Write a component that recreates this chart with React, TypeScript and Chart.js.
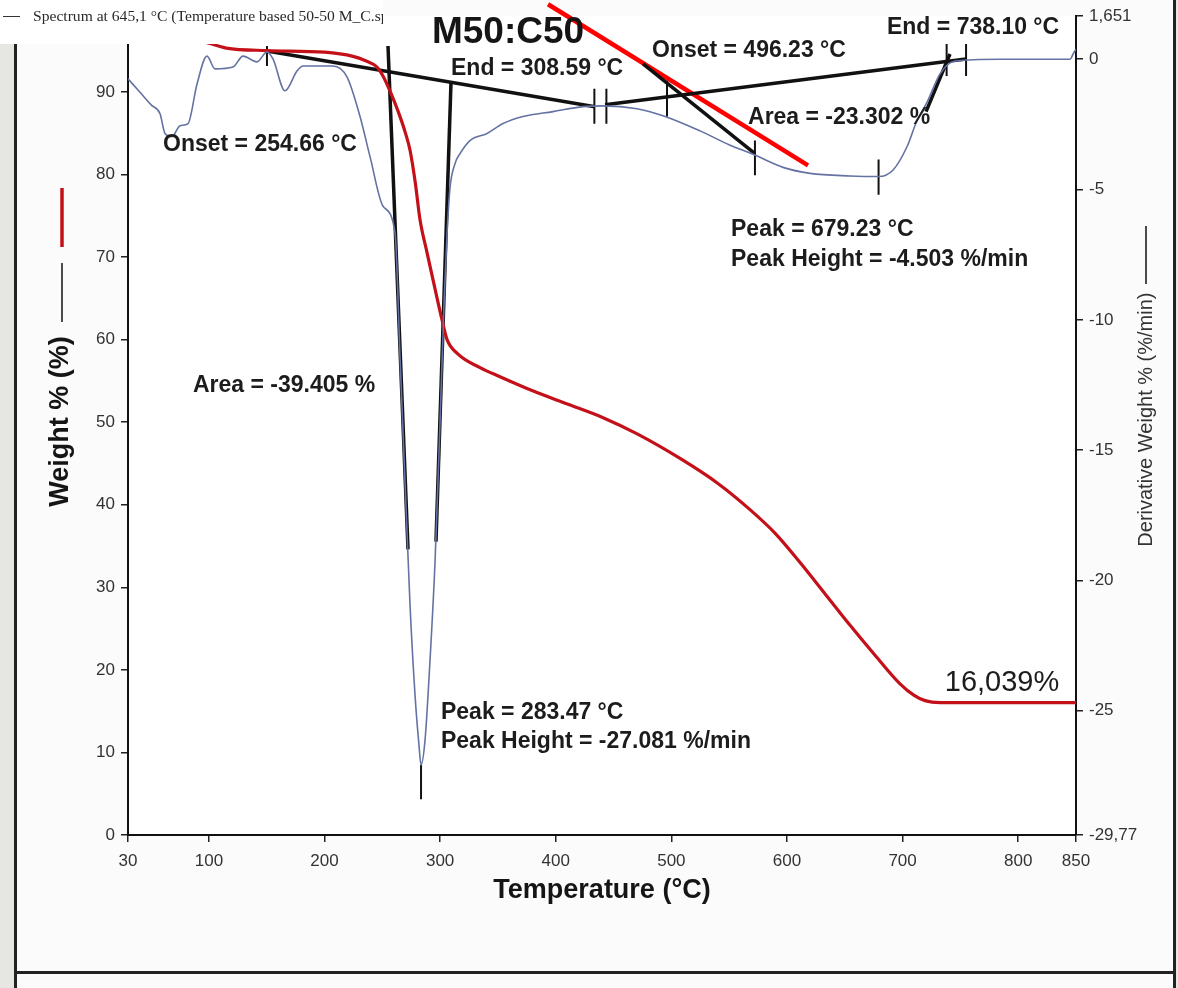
import { useEffect, useRef } from 'react';
import { Chart, registerables } from 'chart.js';

Chart.register(...registerables);

const SANS = 'Arial, "Liberation Sans", Helvetica, sans-serif';
const SERIF = '"Times New Roman", "Liberation Serif", serif';

// Temperature axis (°C)
const tempMin = 30;
const tempMax = 850;
const tempTicks = [30, 100, 200, 300, 400, 500, 600, 700, 800, 850];

// Weight axis (%)
const weightMin = 0;
const weightMax = 99.16;
const weightTicks = [0, 10, 20, 30, 40, 50, 60, 70, 80, 90];

// Derivative weight axis (%/min)
const rateMin = -29.77;
const rateMax = 1.651;
const rateTicks = [-29.77, -25, -20, -15, -10, -5, 0, 1.651];

// TGA weight loss curve
const weightTemps = [30, 50, 75, 100, 115, 150, 200, 224.6, 235, 245.4, 251, 256.6, 261, 265.3, 270, 274, 278.5, 282.6, 288.7, 295, 301.6, 306, 315, 334.5, 351.8, 380, 410, 440, 470, 507.5, 540, 568, 590, 611.3, 633, 654.6, 676, 697.8, 710, 719.4, 732.4, 850];
const weightValues = [99.0, 98.4, 97.2, 95.9, 95.3, 95.0, 94.8, 94.3, 93.8, 93.0, 91.8, 90.1, 88.6, 87.0, 85.0, 82.9, 79.0, 74.5, 70.5, 66.5, 62.4, 60.0, 58.3, 56.6, 55.5, 53.8, 52.2, 50.6, 48.6, 45.6, 42.6, 39.4, 36.5, 33.0, 29.2, 25.4, 21.8, 18.3, 16.9, 16.27, 16.039, 16.039];

// DTG (derivative weight) curve
const rateTemps = [30, 40, 50, 57.7, 62, 68, 75, 81.9, 89.7, 98.3, 105.3, 120.8, 129.5, 141.6, 150.2, 155.4, 165.8, 176.2, 181.4, 207.3, 219.4, 230.7, 239.3, 250.6, 261, 265.3, 269.6, 274, 278.3, 281.7, 283.47, 286.9, 291.2, 295.6, 299.9, 303.4, 306, 308.5, 312.9, 317.2, 325.8, 340.6, 354.4, 371.7, 397.6, 423.6, 440.9, 470.3, 492.8, 524.8, 550.8, 570.7, 596.6, 620, 654.6, 679.23, 691.8, 703.9, 712.5, 721.2, 732.4, 745.4, 784.3, 844.9, 847.5, 850];
const rateValues = [-0.75, -1.25, -1.75, -2.09, -2.85, -2.97, -2.55, -2.47, -0.95, 0.12, -0.37, -0.30, 0.12, -0.10, 0.28, 0.01, -1.21, -0.45, -0.26, -0.26, -0.68, -2.2, -3.73, -5.64, -6.67, -11.44, -16.22, -20.99, -24.42, -26.33, -27.081, -26.14, -23.09, -19.27, -13.93, -9.35, -6.67, -4.95, -4.0, -3.62, -3.12, -2.85, -2.47, -2.2, -2.01, -1.82, -1.79, -1.9, -2.17, -2.75, -3.3, -3.65, -4.15, -4.38, -4.48, -4.503, -4.25, -3.35, -2.35, -1.65, -0.56, -0.07, 0.0, 0.0, 0.2, 0.39];

// Baselines and tangents of the onset / end evaluation (°C, %/min)
const baselineA = [[150.2, 0.315], [433.9, -1.823]];
const baselineB = [[442.6, -1.747], [754.9, 0.009]];
const tangentOnsetA = [[254.9, 0.506], [272.2, -18.81]];
const tangentEndA = [[309.4, -0.869], [296.4, -18.51]];
const tangentOnsetB = [[475.5, -0.18], [572.3, -3.62]];
const tangentEndB = [[741.0, 0.2], [720.3, -2.01]];

// Event markers: temperature, upper and lower end (%/min)
const markerTemps = [150.2, 433.4, 443.8, 496.23, 572.3, 679.23, 738.1, 754.9, 283.47];
const markerTops = [0.506, -1.136, -1.136, -0.83, -3.12, -3.85, 0.58, 0.58, -27.081];
const markerBottoms = [-0.258, -2.472, -2.472, -2.205, -4.457, -5.2, -0.64, -0.64, -28.4];

// Highlight stroke across the second step
const highlight = [[393.3, 2.109], [618.2, -4.076]];

// Result texts, anchored at (°C, %/min)
const callouts = [
  { text: 'Onset = 254.66 °C', t: 60.3, d: -3.54 },
  { text: 'End = 308.59 °C', t: 309.4, d: -0.6 },
  { text: 'Onset = 496.23 °C', t: 483.2, d: 0.086 },
  { text: 'End = 738.10 °C', t: 686.5, d: 0.95 },
  { text: 'Area = -23.302 %', t: 566.3, d: -2.47 },
  { text: 'Peak = 679.23 °C', t: 551.6, d: -6.79 },
  { text: 'Peak Height = -4.503 %/min', t: 551.6, d: -7.93 },
  { text: 'Area = -39.405 %', t: 86.2, d: -12.78 },
  { text: 'Peak = 283.47 °C', t: 300.7, d: -25.3 },
  { text: 'Peak Height = -27.081 %/min', t: 300.7, d: -26.45 },
];
const residueLabel = '16,039%';
const residueAnchor = { t: 736.5, w: 17.45 };

const toPoints = (xs: number[], ys: number[]) => xs.map((x, i) => ({ x, y: ys[i] }));
const pairPoints = (p: number[][]) => p.map(([x, y]) => ({ x, y }));

function segment(points: number[][], width: number, color = '#111') {
  return {
    type: 'line' as const,
    data: pairPoints(points),
    yAxisID: 'y2',
    borderColor: color,
    borderWidth: width,
    pointRadius: 0,
    tension: 0,
    fill: false,
  };
}

const decorations = {
  id: 'decorations',
  beforeDraw(chart: any) {
    const { ctx, width, height, chartArea } = chart;
    ctx.save();
    ctx.fillStyle = '#fbfbfb';
    ctx.fillRect(0, 0, width, height);
    ctx.fillStyle = '#ffffff';
    ctx.fillRect(chartArea.left, chartArea.top, chartArea.right - chartArea.left, chartArea.bottom - chartArea.top);
    ctx.restore();
  },
  afterDraw(chart: any) {
    const { ctx, chartArea, scales } = chart;
    const sx = scales.x;
    const sr = scales.y2;
    const sw = scales.y;
    ctx.save();

    // result callouts
    ctx.fillStyle = '#1c1c1c';
    ctx.font = `bold 23px ${SANS}`;
    ctx.textAlign = 'left';
    ctx.textBaseline = 'alphabetic';
    callouts.forEach((c) => {
      ctx.fillText(c.text, sx.getPixelForValue(c.t), sr.getPixelForValue(c.d));
    });

    ctx.font = `29px ${SANS}`;
    ctx.fillText(residueLabel, sx.getPixelForValue(residueAnchor.t), sw.getPixelForValue(residueAnchor.w));

    // title
    const cx = (chartArea.left + chartArea.right) / 2;
    ctx.font = `bold 37px ${SANS}`;
    ctx.textAlign = 'center';
    ctx.fillStyle = '#151515';
    ctx.fillText('M50:C50', 508, 43);

    // axis titles
    ctx.font = `bold 27px ${SANS}`;
    ctx.textBaseline = 'middle';
    ctx.fillText('Temperature (°C)', cx, chartArea.bottom + 56);

    const cy = (chartArea.top + chartArea.bottom) / 2;
    ctx.save();
    ctx.translate(61, cy - 4);
    ctx.rotate(-Math.PI / 2);
    ctx.fillText('Weight % (%)', 0, 0);
    ctx.restore();

    ctx.save();
    ctx.translate(1146, cy - 6);
    ctx.rotate(-Math.PI / 2);
    ctx.font = `20px ${SANS}`;
    ctx.fillStyle = '#333';
    ctx.fillText('Derivative Weight % (%/min)', 0, 0);
    ctx.restore();

    // series keys beside the axis titles
    ctx.strokeStyle = '#c41018';
    ctx.lineWidth = 3.5;
    ctx.beginPath();
    ctx.moveTo(62, 188);
    ctx.lineTo(62, 247);
    ctx.stroke();
    ctx.strokeStyle = '#111';
    ctx.lineWidth = 1.5;
    ctx.beginPath();
    ctx.moveTo(62, 263);
    ctx.lineTo(62, 322);
    ctx.stroke();
    ctx.beginPath();
    ctx.moveTo(1146, 226);
    ctx.lineTo(1146, 284);
    ctx.stroke();

    // window frame
    ctx.fillStyle = '#e6e6e2';
    ctx.fillRect(0, 0, 14, 988);
    ctx.fillStyle = '#222';
    ctx.fillRect(14, 44, 3, 944);
    ctx.fillRect(14, 971, 1164, 3);
    ctx.fillRect(1173, 0, 3, 988);
    ctx.fillStyle = '#e6e6e2';
    ctx.fillRect(1176, 0, 2, 988);

    // spectrum caption box
    ctx.fillStyle = '#ffffff';
    ctx.fillRect(0, 0, 383, 44);
    ctx.strokeStyle = '#333';
    ctx.lineWidth = 1;
    ctx.beginPath();
    ctx.moveTo(3, 16.5);
    ctx.lineTo(20, 16.5);
    ctx.stroke();
    ctx.beginPath();
    ctx.rect(0, 0, 383, 44);
    ctx.clip();
    ctx.fillStyle = '#2a2a2a';
    ctx.font = `15.6px ${SERIF}`;
    ctx.textAlign = 'left';
    ctx.textBaseline = 'alphabetic';
    ctx.fillText('Spectrum at 645,1 °C (Temperature based 50-50 M_C.spa)', 33, 21);
    ctx.restore();
  },
};

export default function App() {
  const canvasRef = useRef<HTMLCanvasElement | null>(null);

  useEffect(() => {
    const canvas = canvasRef.current;
    if (!canvas) return;

    const tickFont = { family: SANS, size: 17 };
    const axisGrid = { drawOnChartArea: false, drawTicks: true, tickLength: 7, color: '#222', lineWidth: 1.5 };
    const axisBorder = { display: true, color: '#111', width: 2 };

    const datasets: any[] = [
      {
        type: 'line',
        data: toPoints(rateTemps, rateValues),
        yAxisID: 'y2',
        borderColor: '#6472a4',
        borderWidth: 1.6,
        pointRadius: 0,
        cubicInterpolationMode: 'monotone',
        fill: false,
      },
      {
        type: 'line',
        data: toPoints(weightTemps, weightValues),
        yAxisID: 'y',
        borderColor: '#c41018',
        borderWidth: 3.2,
        pointRadius: 0,
        cubicInterpolationMode: 'monotone',
        fill: false,
      },
      segment(baselineA, 3.5),
      segment(baselineB, 3.5),
      segment(tangentOnsetA, 3.5),
      segment(tangentEndA, 3.5),
      segment(tangentOnsetB, 3.5),
      segment(tangentEndB, 3.5),
      ...markerTemps.map((t, i) => segment([[t, markerTops[i]], [t, markerBottoms[i]]], 2)),
      { ...segment(highlight, 4.5, '#ff0000'), clip: false },
    ];

    const chart = new Chart(canvas, {
      type: 'line',
      data: { datasets },
      plugins: [decorations],
      options: {
        animation: false,
        responsive: false,
        devicePixelRatio: 1,
        events: [],
        layout: { padding: { top: 12, left: 0, right: 0, bottom: 0 } },
        plugins: { legend: { display: false }, tooltip: { enabled: false }, title: { display: false } },
        scales: {
          x: {
            type: 'linear',
            position: 'bottom',
            min: tempMin,
            max: tempMax,
            afterBuildTicks: (s: any) => { s.ticks = tempTicks.map((value) => ({ value })); },
            afterFit: (s: any) => { s.height = 153; },
            grid: axisGrid,
            border: axisBorder,
            ticks: { font: tickFont, color: '#333', padding: 9, maxRotation: 0, autoSkip: false },
          },
          y: {
            type: 'linear',
            position: 'left',
            min: weightMin,
            max: weightMax,
            afterBuildTicks: (s: any) => { s.ticks = weightTicks.map((value) => ({ value })); },
            afterFit: (s: any) => { s.width = 128; },
            grid: axisGrid,
            border: axisBorder,
            ticks: { font: tickFont, color: '#333', padding: 6, autoSkip: false },
          },
          y2: {
            type: 'linear',
            position: 'right',
            min: rateMin,
            max: rateMax,
            afterBuildTicks: (s: any) => { s.ticks = rateTicks.map((value) => ({ value })); },
            afterFit: (s: any) => { s.width = 102; },
            grid: axisGrid,
            border: axisBorder,
            ticks: {
              font: tickFont,
              color: '#333',
              padding: 6,
              autoSkip: false,
              callback: (v: any) => String(v).replace('.', ','),
            },
          },
        },
      } as any,
    });

    return () => chart.destroy();
  }, []);

  return (
    <div style={{ position: 'absolute', left: 0, top: 0, width: 1178, height: 988, background: '#fbfbfb' }}>
      <canvas ref={canvasRef} width={1178} height={988} style={{ display: 'block' }} />
    </div>
  );
}
